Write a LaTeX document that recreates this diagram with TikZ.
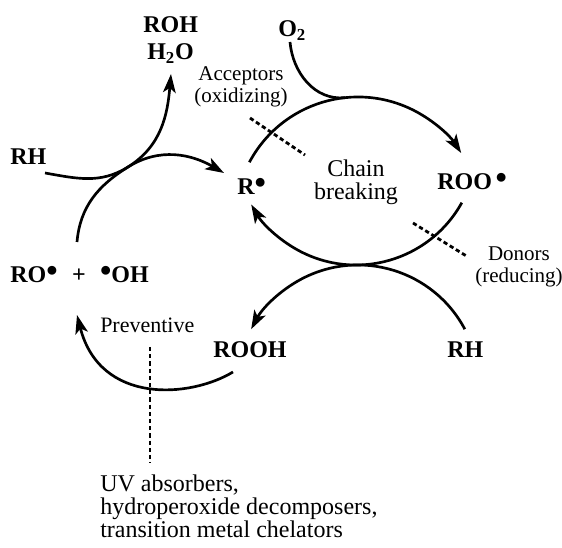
\documentclass[tikz,border=0pt]{standalone}
\usepackage{fontspec}
\setmainfont{Liberation Serif}
\usetikzlibrary{arrows.meta,calc}
\newcommand\rdot{\raisebox{0.08em}{\scalebox{1.35}{\textbullet}}}

\begin{document}
\begin{tikzpicture}[x=0.75pt,y=0.75pt,
  line/.style={line width=2pt},
  flow/.style={line width=2pt,-{Stealth[length=14pt,width=9.5pt,inset=3.5pt]}},
  dotline/.style={line width=2.1pt,dash pattern=on 3.2pt off 2.2pt},
  species/.style={font=\fontsize{18}{20}\selectfont\bfseries,inner sep=0pt,anchor=base west},
  note/.style={font=\fontsize{15.75}{16.5}\selectfont,inner sep=0pt,align=center,anchor=base},
  body/.style={font=\fontsize{18}{17.25}\selectfont,inner sep=0pt}
]
\useasboundingbox (0,0) rectangle (562,-548);

% species
\node[species] (roh)  at (143,-33)  {ROH};
\node[species] (h2o)  at (147,-60)  {H\textsubscript{2}O};
\node[species] (o2)   at (278,-37)  {O\textsubscript{2}};
\node[species] (rhL)  at (10,-165)  {RH};
\node[species] (r)    at (237,-195) {R\rdot};
\node[species] (roo)  at (437,-190) {ROO\hspace{0.15em}\rdot};
\node[species] (ro)   at (10,-283)  {RO\rdot\hspace{0.6em}+\hspace{0.6em}\rdot OH};
\node[species] (rooh) at (213,-358) {ROOH};
\node[species] (rhB)  at (447,-358) {RH};

% annotations (base anchor sits on the last line)
\node[note] (acc) at (241,-103) {Acceptors\\(oxidizing)};
\node[note] (don) at (519,-283) {Donors\\(reducing)};
\node[body,align=center,anchor=base] (chain) at (356,-200) {Chain\\breaking};
\node[body,font=\fontsize{16.5}{17}\selectfont,anchor=base west] (prev) at (100,-333) {Preventive};
\node[body,align=left,anchor=base west] (uv) at (100,-538)
  {UV absorbers,\\hydroperoxide decomposers,\\transition metal chelators};

% chain-breaking cycle
\coordinate (rUp)   at ($(358,-220)+(152:123)$);
\coordinate (top)   at ($(358,-220)+(96:123)$);
\coordinate (rooDn) at ($(356,-144)+(-29:121)$);
\coordinate (rhUp)  at ($(358,-386)+(28:121)$);
\draw[flow] (rUp) arc[start angle=152,end angle=33,radius=123];
\draw[flow] (rooDn) arc[start angle=-29,end angle=-150,radius=121];
\draw[flow] (rhUp) arc[start angle=28,end angle=152,radius=121];

% oxygen uptake
\coordinate (o2Dn) at (290,-42);
\draw[line] (o2Dn) to[out=-85,in=186] (top);

% alkoxyl / hydroxyl radicals abstract hydrogen
\coordinate (roUp)  at (77,-242);
\coordinate (touch) at (128,-167);
\coordinate (rhEnd) at (45,-173);
\draw[flow] (roUp) to[out=85,in=212] (touch) to[out=32,in=-95] (171,-74);
\draw[flow] (rhEnd) to[out=-10,in=212] (touch) to[out=32,in=150] (224,-173);

% hydroperoxide decomposition
\coordinate (roohDn) at (233,-372);
\draw[flow] (roohDn) .. controls (190,-398) and (100,-405) .. (77,-315);

% points of intervention
\draw[dotline] (250,-118) -- (305,-155);
\draw[dotline] (413,-223) -- (468,-257);
\draw[dotline] (150,-347) -- (150,-463);
\end{tikzpicture}
\end{document}
